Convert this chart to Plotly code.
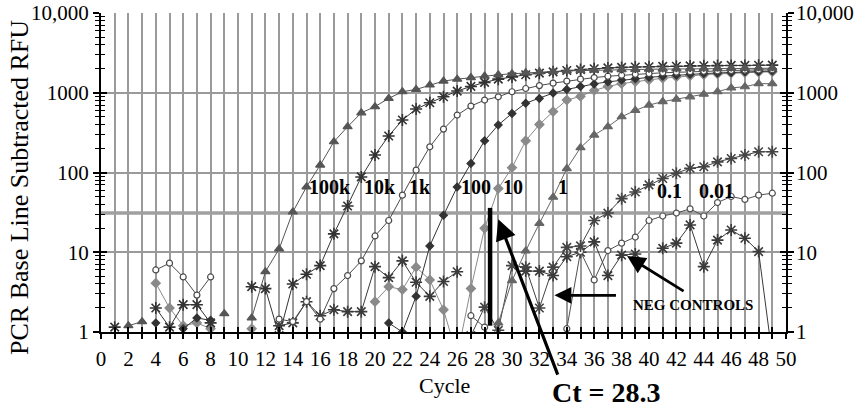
import math
import plotly.graph_objects as go

N = None
cycles = list(range(1, 50))

# ---- series values (RFU) per cycle 1..49 ----
s100k = [N, 1.2, 1.35, N, N, N, N, N, 1.7, N,
         1.5, 5.7, 11, 32, 66, 124, 243, 375, 560, 670,
         850, 1030, 1100, 1250, 1400, 1480, 1550, 1620, 1680, 1730,
         1780, 1820, 1850, 1880, 1900, 1920, 1940, 1950, 1960, 1970,
         1980, 1990, 2000, 2000, 2010, 2020, 2020, 2030, 2030]
s10k = [1.15, N, N, 2.0, 1.15, 2.2, 2.2, 1.3, N, N,
        3.7, 3.5, 0.9, 4.0, 5.3, 6.8, 17, 38, 88, 166,
        287, 455, 625, 750, 890, 1050, 1200, 1350, 1480, 1580,
        1680, 1760, 1830, 1900, 1950, 2000, 2050, 2080, 2100, 2120,
        2140, 2150, 2170, 2180, 2190, 2200, 2200, 2210, 2220]
s1k = [N, N, N, 6.0, 7.3, 4.9, 2.9, 4.9, N, N,
       N, N, 1.45, 1.35, 2.4, 1.45, 3.5, 5.1, 7.8, 16,
       25, 52, 107, 210, 350, 525, 680, 810, 890, 1030,
       1130, 1230, 1320, 1400, 1480, 1550, 1610, 1660, 1700, 1740,
       1780, 1810, 1840, 1860, 1880, 1900, 1920, 1930, 1940]
s100 = [N, N, N, 1.3, N, 1.1, 1.5, 1.4, N, N,
        N, N, N, N, N, N, N, N, N, N,
        1.3, 1.0, 2.8, 12, 29, 66, 130, 250, 395, 550,
        740, 850, 990, 1100, 1200, 1290, 1370, 1440, 1500, 1560,
        1610, 1660, 1700, 1740, 1770, 1800, 1830, 1850, 1870]
s10 = [N, N, N, 4.1, 2.0, 1.2, 1.3, 1.1, N, N,
       1.1, N, N, N, N, N, N, N, N, 2.4,
       3.7, 3.4, 6.5, 4.5, 1.9, 0.5, 3.5, 20, 63, 115,
       250, 400, 580, 810, 900, 1070, 1200, 1300, 1380, 1450,
       1520, 1580, 1630, 1680, 1720, 1760, 1790, 1810, 1830]
s1 = [N] * 27 + [0.5, 1.3, 4.4,
                 10.4, 23, 49, 112, 205, 295, 375, 500, 600, 700,
                 775, 830, 890, 960, 1030, 1150, 1190, 1300, 1300]
s01 = [N] * 26 + [0.9, 2.05, 1.05, 6.8,
                  6.5, 2.0, 6.5, 11.5, 12, 25, 31, 47, 57, 70,
                  84, 98, 113, 118, 136, 150, 166, 182, 182]
s001 = [N] * 26 + [1.6, 1.15, 0.5, N,
                   N, N, 0.5, 1.1, 10.2, 4.5, 10.5, 13, 15.5, 25,
                   28.5, 31, 35, 28.5, 42, 50, 46, 52, 55]
neg = [N] * 12 + [1.2, 1.3, 2.4, 1.6, 1.9, 1.8, 1.8, 6.6,
                  4.8, 7.8, 4.2, 2.8, 4.3, 5.7, N, N, N, N,
                  5.8, 5.8, 5.1, 8.8, 10, 13.5, 5.1, 9.2, 9.5, N,
                  11.2, 13, 22, 6.6, 14.2, 19, 15, 10.2, 0.5]

threshold = 31
ct_value = 28.3
ct_bar_x = 28.4
ct_bar_y = [1.2, 36]

y_ticks = [1, 10, 100, 1000, 10000]
y_ticktext = ["1", "10", "100", "1000", "10,000"]
minor_vals = [m * 10 ** d for d in range(4) for m in range(2, 10)]
x_ticks = list(range(0, 51))
x_ticktext = [str(v) if v % 2 == 0 else "" for v in x_ticks]

conc_labels = ["100k", "10k", "1k", "100", "10", "1", "0.1", "0.01"]
label_x = [16.7, 20.4, 23.3, 27.4, 30.1, 33.7, 41.5, 44.9]
label_y = [66, 66, 66, 65, 65, 65, 58, 58]

FONT = "Liberation Serif"

series = [
    (neg, "asterisk-open", 10, "#3a3a3a", None),
    (s001, "circle", 6, "#505050", "white"),
    (s01, "asterisk-open", 10, "#444444", None),
    (s1, "triangle-up", 8, "#666666", "#666666"),
    (s10, "diamond", 7, "#8a8a8a", "#8a8a8a"),
    (s100, "diamond", 6, "#333333", "#333333"),
    (s1k, "circle", 6, "#4a4a4a", "white"),
    (s10k, "asterisk-open", 10, "#333333", None),
    (s100k, "triangle-up", 8, "#555555", "#555555"),
]

fig = go.Figure()

# threshold line
fig.add_trace(go.Scatter(x=[0, 50], y=[threshold, threshold], mode="lines",
                         line=dict(color="#a0a0a0", width=3.5), hoverinfo="skip",
                         showlegend=False))

for vals, sym, size, col, fill in series:
    if fill is None:
        marker = dict(symbol=sym, size=size, color=col, line=dict(color=col, width=1.6))
    else:
        marker = dict(symbol=sym, size=size, color=fill, line=dict(color=col, width=1.2))
    fig.add_trace(go.Scatter(x=cycles, y=vals, mode="lines+markers",
                             line=dict(color=col, width=1), marker=marker,
                             connectgaps=False, showlegend=False))

# Ct bar
fig.add_trace(go.Scatter(x=[ct_bar_x, ct_bar_x], y=ct_bar_y, mode="lines",
                         line=dict(color="black", width=4.5), showlegend=False))

# invisible trace so the overlay (right / inner-tick) axes are drawn
fig.add_trace(go.Scatter(x=[25], y=[10], xaxis="x2", yaxis="y2", mode="markers",
                         marker=dict(size=1, opacity=0), hoverinfo="skip", showlegend=False))

annotations = []
for t, lx, ly in zip(conc_labels, label_x, label_y):
    annotations.append(dict(x=lx, y=math.log10(ly), xref="x", yref="y", text="<b>%s</b>" % t,
                            xanchor="center", yanchor="middle",
                            showarrow=False, font=dict(family=FONT, size=20, color="black")))


def paper_text(px, py, text, size, angle=0):
    return dict(x=(px - 101) / 685, y=(332 - py) / 319, xref="paper", yref="paper",
                xanchor="center", yanchor="middle", text=text, textangle=angle,
                showarrow=False, font=dict(family=FONT, size=size, color="black"))


# Ct arrow
annotations.append(dict(x=29.0, y=math.log10(26), xref="x", yref="y", text="", showarrow=True,
                        ax=60, ay=157, arrowhead=2, arrowsize=1.3, arrowwidth=3.2,
                        arrowcolor="black", standoff=0, startstandoff=0))
annotations.append(paper_text(606, 392, "<b>Ct = %s</b>" % ct_value, 28))
# NEG CONTROLS
annotations.append(paper_text(693, 305, "<b>NEG CONTROLS</b>", 15))
annotations.append(dict(x=33.1, y=math.log10(2.88), xref="x", yref="y", text="", showarrow=True,
                        ax=63, ay=0, arrowhead=2, arrowsize=1.3, arrowwidth=2.6,
                        arrowcolor="black", standoff=0, startstandoff=0))
annotations.append(dict(x=38.4, y=math.log10(8.97), xref="x", yref="y", text="", showarrow=True,
                        ax=58, ay=36, arrowhead=2, arrowsize=1.3, arrowwidth=2.8,
                        arrowcolor="black", standoff=0, startstandoff=0))
# axis titles
annotations.append(paper_text(444, 385, "Cycle", 22))
annotations.append(paper_text(19, 188, "PCR Base Line Subtracted RFU", 26, angle=-90))

tickfont = dict(family=FONT, size=21, color="black")
fig.update_layout(
    width=861, height=408,
    margin=dict(l=101, r=75, t=13, b=76, autoexpand=False),
    paper_bgcolor="white", plot_bgcolor="white",
    showlegend=False,
    xaxis=dict(range=[0, 50], tickvals=x_ticks, ticktext=x_ticktext, showgrid=True,
               gridcolor="#9a9a9a", gridwidth=2, showline=True, linecolor="black", linewidth=2,
               ticks="outside", ticklen=5, tickwidth=1.5, tickcolor="black", tickfont=tickfont,
               zeroline=False, ticklabelstandoff=2, automargin=False),
    xaxis2=dict(range=[0, 50], overlaying="x", anchor="y", side="bottom", tickvals=x_ticks,
                showticklabels=False, ticks="inside", ticklen=5, tickwidth=1.5, tickcolor="black",
                showgrid=False, showline=False, zeroline=False, automargin=False),
    yaxis=dict(type="log", range=[0, 4], tickvals=y_ticks, ticktext=y_ticktext, showgrid=True,
               gridcolor="#9a9a9a", gridwidth=2, showline=True, linecolor="black", linewidth=2,
               ticks="outside", ticklen=6, tickwidth=1.5, tickcolor="black", mirror="allticks",
               tickfont=tickfont, zeroline=False, automargin=False, ticklabelstandoff=0,
               minor=dict(tickvals=minor_vals, ticks="outside", ticklen=4, tickwidth=1.2,
                          tickcolor="black", showgrid=False)),
    yaxis2=dict(type="log", range=[0, 4], overlaying="y", side="right", anchor="x2",
                tickvals=y_ticks, ticktext=y_ticktext, showgrid=False, showline=False,
                ticks="inside", ticklen=6, tickwidth=1.5, tickcolor="black", mirror="allticks",
                tickfont=tickfont, zeroline=False, automargin=False, ticklabelstandoff=9,
                minor=dict(tickvals=minor_vals, ticks="inside", ticklen=4, tickwidth=1.2,
                           tickcolor="black", showgrid=False)),
    annotations=annotations,
)

fig.write_html("out.html")
